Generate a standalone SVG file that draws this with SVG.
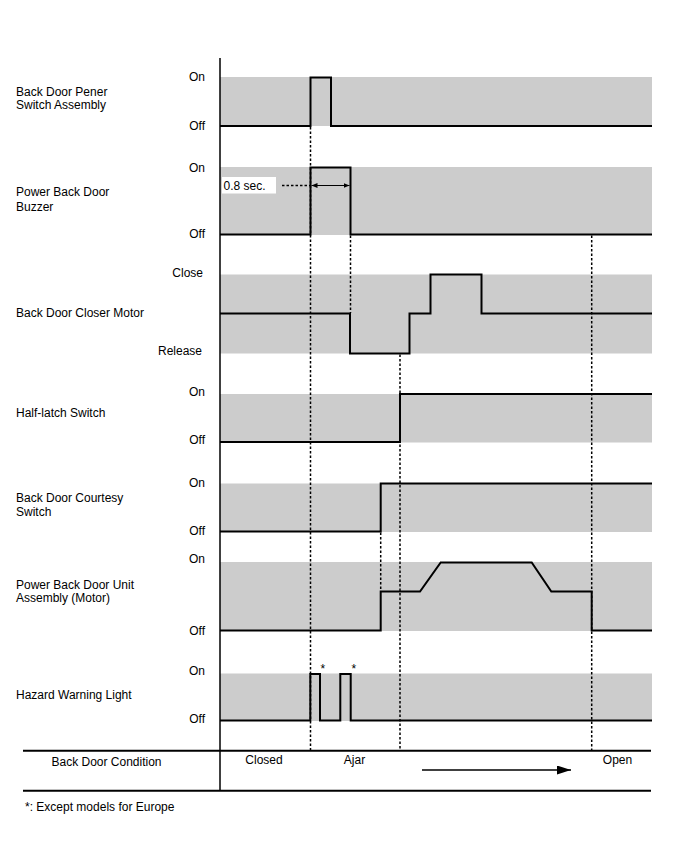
<svg xmlns="http://www.w3.org/2000/svg" width="688" height="852" viewBox="0 0 688 852">
<style>
  text { font-family: "Liberation Sans", Arial, sans-serif; font-size: 12px; fill: #000; }
  .lvl { text-anchor: end; }
  .band { fill: #cccccc; }
  .sig { fill: none; stroke: #000; stroke-width: 2; stroke-linejoin: miter; }
  .guide { fill: none; stroke: #000; stroke-width: 1.5; stroke-dasharray: 2.5 2; }
  .rule { stroke: #000; stroke-width: 2; }
  .axis { stroke: #000; stroke-width: 1.5; }
</style>
<defs>
  <marker id="ah" viewBox="0 0 10 10" refX="10" refY="5" markerWidth="6" markerHeight="6" orient="auto-start-reverse" markerUnits="userSpaceOnUse">
    <path d="M0,1 L10,5 L0,9 z" fill="#000"/>
  </marker>
  <marker id="bigah" viewBox="0 0 14 9" refX="14" refY="4.5" markerWidth="14" markerHeight="9" orient="auto" markerUnits="userSpaceOnUse">
    <path d="M0,0 L14,4.5 L0,9 z" fill="#000"/>
  </marker>
</defs>
<rect width="688" height="852" fill="#fff"/>

<g id="opener-switch">
  <rect class="band" x="220" y="77" width="432" height="49"/>
  <text x="16" y="95.5">Back Door Pener</text>
  <text x="16" y="108.5">Switch Assembly</text>
  <text class="lvl" x="205" y="81">On</text>
  <text class="lvl" x="205" y="129.5">Off</text>
  <polyline class="sig" points="220,126 310.5,126 310.5,77.5 331,77.5 331,126 652,126"/>
</g>

<g id="buzzer">
  <rect class="band" x="220" y="167" width="432" height="68"/>
  <text x="16" y="195.5">Power Back Door</text>
  <text x="16" y="210.5">Buzzer</text>
  <text class="lvl" x="205" y="171.5">On</text>
  <text class="lvl" x="205" y="237.5">Off</text>
  <polyline class="sig" points="220,234.5 310.5,234.5 310.5,167.5 350.5,167.5 350.5,234.5 652,234.5"/>
  <rect x="222" y="177" width="54" height="16.5" fill="#fff"/>
  <text x="223.5" y="189.5">0.8 sec.</text>
  <line class="guide" x1="282" y1="185.5" x2="310" y2="185.5" stroke-width="1"/>
  <line x1="311.5" y1="185.5" x2="349.5" y2="185.5" stroke="#000" stroke-width="1.2" marker-start="url(#ah)" marker-end="url(#ah)"/>
</g>

<g id="closer-motor">
  <rect class="band" x="220" y="274.5" width="432" height="79"/>
  <text x="16" y="316.5">Back Door Closer Motor</text>
  <text class="lvl" x="203" y="276.5">Close</text>
  <text class="lvl" x="202" y="354.5">Release</text>
  <polyline class="sig" points="220,313.5 350,313.5 350,353.5 409.5,353.5 409.5,313.5 430.5,313.5 430.5,274.5 481.5,274.5 481.5,313.5 652,313.5"/>
</g>

<g id="half-latch">
  <rect class="band" x="220" y="394" width="432" height="48.5"/>
  <text x="16" y="417">Half-latch Switch</text>
  <text class="lvl" x="205" y="395.5">On</text>
  <text class="lvl" x="205" y="444">Off</text>
  <polyline class="sig" points="220,442 400,442 400,394 652,394"/>
</g>

<g id="courtesy-switch">
  <rect class="band" x="220" y="483.5" width="432" height="48.5"/>
  <text x="16" y="502">Back Door Courtesy</text>
  <text x="16" y="516">Switch</text>
  <text class="lvl" x="205" y="486.5">On</text>
  <text class="lvl" x="205" y="535">Off</text>
  <polyline class="sig" points="220,531.5 380.7,531.5 380.7,483.5 652,483.5"/>
</g>

<g id="unit-motor">
  <rect class="band" x="220" y="562" width="432" height="69"/>
  <text x="16" y="588.5">Power Back Door Unit</text>
  <text x="16" y="602">Assembly (Motor)</text>
  <text class="lvl" x="205" y="562.5">On</text>
  <text class="lvl" x="205" y="635">Off</text>
  <polyline class="sig" points="220,630.5 380.7,630.5 380.7,591.5 420,591.5 440.7,562.5 531.7,562.5 551.3,591.5 591.7,591.5 591.7,630.5 652,630.5"/>
</g>

<g id="hazard-light">
  <rect class="band" x="220" y="673.5" width="432" height="47.5"/>
  <text x="16" y="698.5">Hazard Warning Light</text>
  <text class="lvl" x="205" y="674.5">On</text>
  <text class="lvl" x="205" y="723">Off</text>
  <polyline class="sig" points="220,720.5 310.3,720.5 310.3,674 320,674 320,720.5 340.3,720.5 340.3,674 350.7,674 350.7,720.5 652,720.5"/>
  <text x="320.5" y="673" font-size="10">*</text>
  <text x="351.5" y="673" font-size="10">*</text>
</g>

<g id="connectors">
  <line class="guide" x1="310.5" y1="127" x2="310.5" y2="750"/>
  <line class="guide" x1="350.5" y1="235.5" x2="350.5" y2="313"/>
  <line class="guide" x1="400" y1="354.5" x2="400" y2="750"/>
  <line class="guide" x1="591.7" y1="235.5" x2="591.7" y2="750"/>
  <line class="guide" x1="380.7" y1="532.5" x2="380.7" y2="591" stroke-width="1.2"/>
</g>

<g id="axis">
  <line class="axis" x1="220" y1="58" x2="220" y2="790.5"/>
  <line class="rule" x1="23" y1="750.7" x2="651" y2="750.7"/>
  <line class="rule" x1="23" y1="790.7" x2="651" y2="790.7"/>
</g>

<g id="door-condition">
  <text x="106.5" y="765.5" text-anchor="middle">Back Door Condition</text>
  <text x="264" y="764" text-anchor="middle">Closed</text>
  <text x="354.5" y="764" text-anchor="middle">Ajar</text>
  <text x="617.5" y="764" text-anchor="middle">Open</text>
  <line x1="422" y1="770" x2="571" y2="770" stroke="#000" stroke-width="1.5" marker-end="url(#bigah)"/>
</g>

<text x="25" y="810.5">*: Except models for Europe</text>
</svg>
